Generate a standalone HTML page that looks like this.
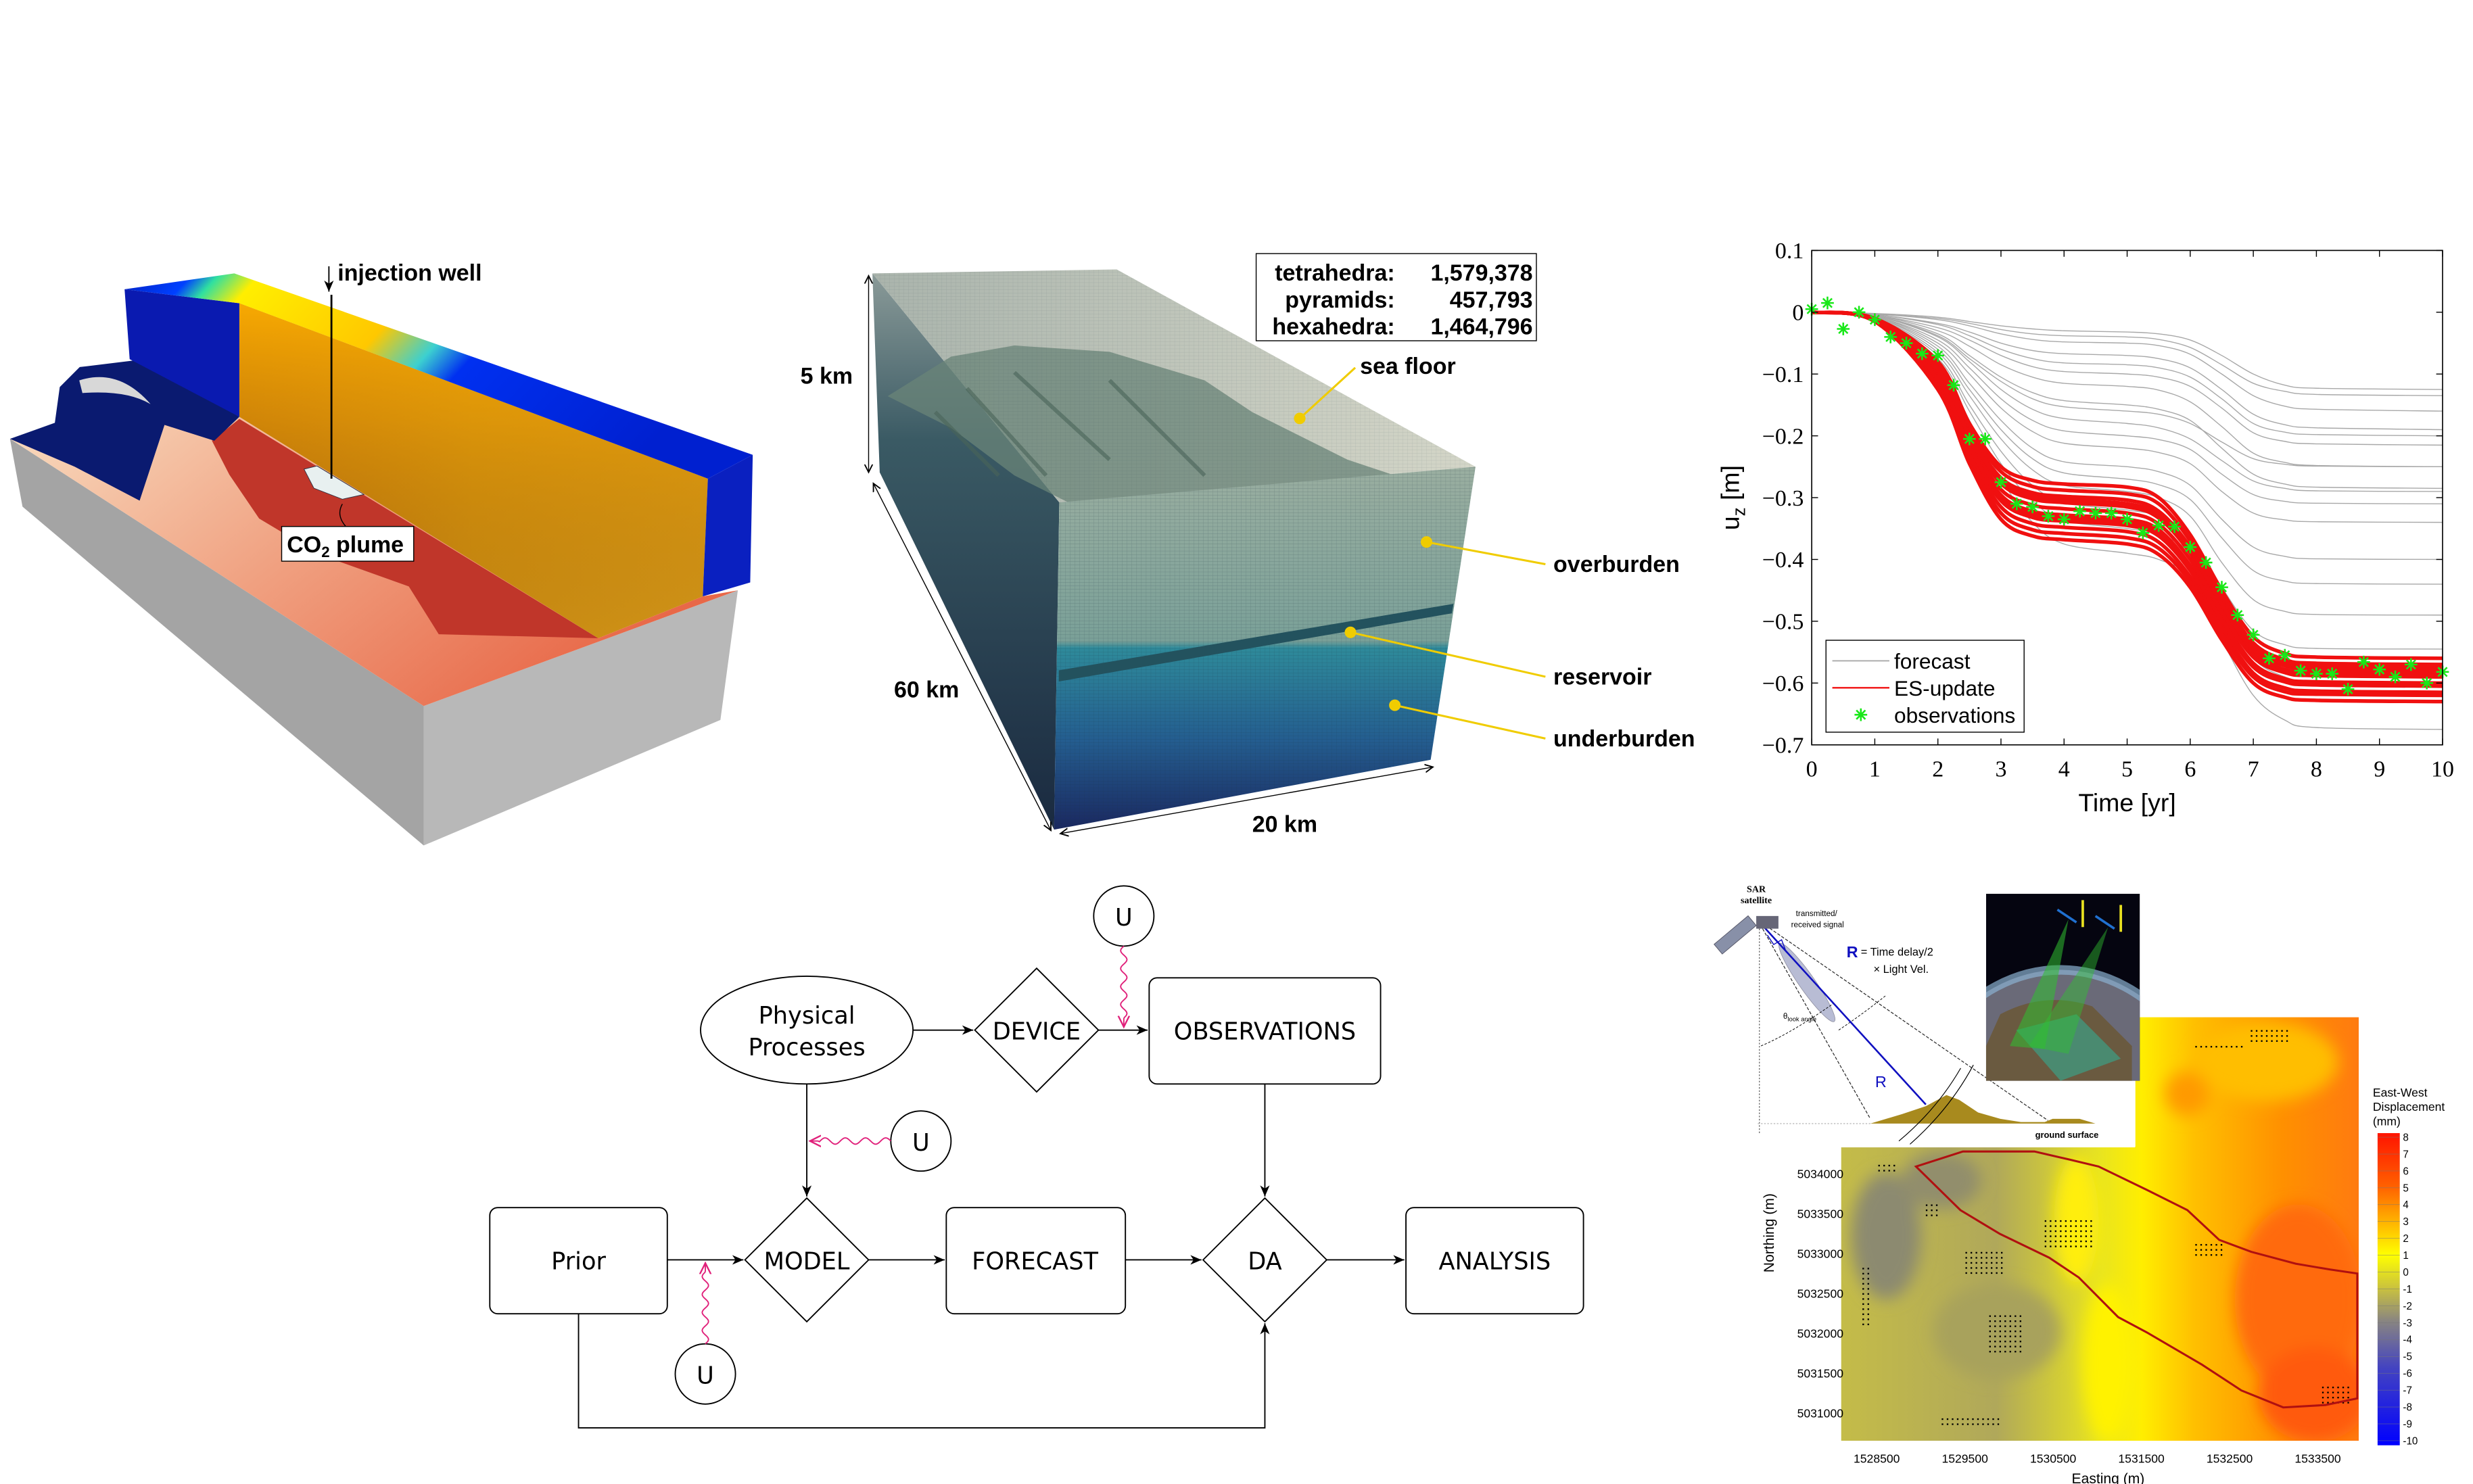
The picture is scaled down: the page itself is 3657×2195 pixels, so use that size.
<!DOCTYPE html>
<html><head><meta charset="utf-8"><style>
html,body{margin:0;padding:0;background:#fff;}
svg{display:block;}
</style></head><body>
<svg id="fig" xmlns="http://www.w3.org/2000/svg" width="3657" height="2195" viewBox="0 0 1560.2 936.4">
<defs>
 <linearGradient id="gWall" x1="0" y1="0" x2="1" y2="0">
  <stop offset="0" stop-color="#b06a10"/><stop offset="0.5" stop-color="#c88a12"/><stop offset="1" stop-color="#d09418"/>
 </linearGradient>
 <linearGradient id="gWallV" x1="0" y1="0" x2="0" y2="1">
  <stop offset="0" stop-color="#ffb000" stop-opacity="0.9"/><stop offset="0.35" stop-color="#f0a000" stop-opacity="0.5"/><stop offset="1" stop-color="#a06000" stop-opacity="0"/>
 </linearGradient>
 <linearGradient id="gTop" x1="0" y1="0" x2="1" y2="0.3">
  <stop offset="0" stop-color="#0020c0"/><stop offset="0.1" stop-color="#0040ff"/><stop offset="0.14" stop-color="#30e0a0"/><stop offset="0.2" stop-color="#ffee00"/><stop offset="0.45" stop-color="#ffc800"/><stop offset="0.55" stop-color="#3cd0d0"/><stop offset="0.62" stop-color="#0030f0"/><stop offset="1" stop-color="#0020d0"/>
 </linearGradient>
 <linearGradient id="gFloor" x1="0" y1="0" x2="1" y2="0.5">
  <stop offset="0" stop-color="#f8dcc0"/><stop offset="0.5" stop-color="#f0a080"/><stop offset="1" stop-color="#e86848"/>
 </linearGradient>
 <linearGradient id="gFront" x1="0" y1="0" x2="0" y2="1">
  <stop offset="0" stop-color="#9aaea0"/><stop offset="0.48" stop-color="#7aa098"/><stop offset="0.5" stop-color="#2e8a9a"/><stop offset="0.75" stop-color="#245e90"/><stop offset="1" stop-color="#1a2860"/>
 </linearGradient>
 <linearGradient id="gLeft" x1="0" y1="0" x2="0" y2="1">
  <stop offset="0" stop-color="#8a9a98"/><stop offset="0.3" stop-color="#3a5a64"/><stop offset="1" stop-color="#1a2a40"/>
 </linearGradient>
 <linearGradient id="gTopMesh" x1="0" y1="0" x2="1" y2="0">
  <stop offset="0" stop-color="#aab4ac"/><stop offset="1" stop-color="#d4d6c8"/>
 </linearGradient>
 <pattern id="mesh" width="3" height="2.2" patternUnits="userSpaceOnUse">
  <path d="M0 0H3M0 0V2.2" stroke="#1a3040" stroke-width="0.25" stroke-opacity="0.35" fill="none"/>
 </pattern>
 <linearGradient id="gMap" x1="0" y1="0" x2="1" y2="0">
  <stop offset="0" stop-color="#c4bc48"/><stop offset="0.3" stop-color="#b0a85a"/><stop offset="0.5" stop-color="#e8e420"/><stop offset="0.58" stop-color="#ffee00"/><stop offset="0.68" stop-color="#ffc000"/><stop offset="0.85" stop-color="#ff9000"/><stop offset="1" stop-color="#ff7a10"/>
 </linearGradient>
 <linearGradient id="gCbar" x1="0" y1="0" x2="0" y2="1">
  <stop offset="0" stop-color="#ff1400"/><stop offset="0.17" stop-color="#ff6000"/><stop offset="0.28" stop-color="#ffb000"/><stop offset="0.39" stop-color="#ffff00"/><stop offset="0.5" stop-color="#c8c040"/><stop offset="0.6" stop-color="#8a8680"/><stop offset="0.75" stop-color="#4444c0"/><stop offset="1" stop-color="#0000ff"/>
 </linearGradient>
 <filter id="blur4"><feGaussianBlur stdDeviation="5"/></filter>
 <clipPath id="mapClip"><path d="M1161.6 723.6H1347.2V641.9H1488.1V909.1H1161.6Z"/></clipPath>
 <clipPath id="photoClip"><rect x="1253" y="564" width="97" height="118"/></clipPath>
 <clipPath id="plotClip"><rect x="1143" y="158" width="398" height="312"/></clipPath>
 <marker id="arr" markerWidth="8" markerHeight="8" refX="7" refY="4" orient="auto" markerUnits="userSpaceOnUse"><path d="M0 1L7 4L0 7L2 4Z" fill="#000"/></marker>
 <marker id="arrM" markerWidth="8" markerHeight="8" refX="7" refY="4" orient="auto" markerUnits="userSpaceOnUse"><path d="M0 0.5L7 4L0 7.5" fill="none" stroke="#e0207a" stroke-width="1"/></marker>
 <marker id="arr2" markerWidth="6" markerHeight="6" refX="5" refY="3" orient="auto-start-reverse" markerUnits="userSpaceOnUse"><path d="M0 0.5L5 3L0 5.5" fill="none" stroke="#000" stroke-width="0.8"/></marker>
</defs>

<!-- ============ Panel 1: CO2 storage model ============ -->
<g>
 <polygon points="6.3,276.9 267.3,445.5 267.3,533.5 14.2,319.7" fill="#a4a4a4"/>
 <polygon points="267.3,445.5 465.5,372.5 454.5,454.3 267.3,533.5" fill="#b8b8b8"/>
 <polygon points="6.3,276.9 151,263 377.4,402.7 443.4,376.3 465.5,372.5 267.3,445.5" fill="url(#gFloor)"/>
 <polygon points="133.7,278.1 151,264.3 377.4,402.7 276.8,400.2 257.9,370 201.3,349.8 163.5,327.2 144.7,299.5" fill="#c0362a"/>
 <polygon points="6.3,276.9 34.6,266.8 37.7,244.2 50.3,231.6 91.2,226.6 151,263 135.2,278.1 103.8,268.1 88.1,315.9 47.2,294.5" fill="#0a1a70"/>
 <path d="M50 240 Q75 232 95 255 Q80 246 52 248Z" fill="#d8d8d8"/>
 <polygon points="151,191.3 446.6,302 443.4,376.3 377.4,402.7 151,263" fill="url(#gWall)"/>
 <polygon points="151,191.3 446.6,302 443.4,376.3 377.4,402.7 151,263" fill="url(#gWallV)"/>
 <polygon points="78.6,182.5 151,191.3 151,263 81.8,226.6" fill="#0a1ab0"/>
 <polygon points="446.6,302 474.9,287 473.3,367.5 443.4,376.3" fill="#0a20c0"/>
 <polygon points="78.6,182.5 147.8,172.5 474.9,287 446.6,302 151,191.3" fill="url(#gTop)"/>
 <polygon points="191.8,296 200,294 229.6,312 216,315 198,308" fill="#e8f0f0" stroke="#334" stroke-width="0.4"/>
 <line x1="209.1" y1="186" x2="209.1" y2="302" stroke="#000" stroke-width="1.2"/>
 <line x1="207.5" y1="168" x2="207.5" y2="184" stroke="#000" stroke-width="0.8" marker-end="url(#arr)"/>
 <text x="213" y="177" font-family="Liberation Sans, sans-serif" font-weight="bold" font-size="14.5">injection well</text>
 <path d="M218 332 Q212 325 216 318" fill="none" stroke="#000" stroke-width="0.6"/>
 <rect x="177.7" y="332.2" width="83.3" height="21.9" fill="#fff" stroke="#000" stroke-width="0.6"/>
 <text x="181" y="348.5" font-family="Liberation Sans, sans-serif" font-weight="bold" font-size="14.5">CO<tspan font-size="9.5" dy="3">2</tspan><tspan dy="-3"> plume</tspan></text>
</g>

<!-- ============ Panel 2: mesh block ============ -->
<g>
 <polygon points="550.4,172.5 668.3,317 665,523.5 555,298" fill="url(#gLeft)"/>
 <polygon points="550.4,172.5 704.5,170 930.9,294.5 668.3,317" fill="url(#gTopMesh)"/>
 <path d="M560 250 L600 225 L640 218 L700 222 L760 240 L790 260 L850 290 L880 300 L800 330 L700 330 L640 300 L600 270Z" fill="#6a8478" opacity="0.75"/>
 <path d="M610 245 L660 300 M640 235 L700 290 M700 240 L760 300 M590 260 L630 300" stroke="#4a6458" stroke-width="2.5" fill="none" opacity="0.6"/>
 <polygon points="668.3,317 930.9,294.5 902.6,479.4 665,523.5" fill="url(#gFront)"/>
 <polygon points="668.3,317 930.9,294.5 902.6,479.4 665,523.5" fill="url(#mesh)"/>
 <polygon points="550.4,172.5 704.5,170 930.9,294.5 668.3,317" fill="url(#mesh)" opacity="0.5"/>
 <polygon points="668,423 917,381 916,387 668,430" fill="#23525e"/>
 <line x1="548" y1="174" x2="548" y2="298" stroke="#000" stroke-width="0.6" marker-start="url(#arr2)" marker-end="url(#arr2)"/>
 <line x1="551" y1="305" x2="663" y2="524" stroke="#000" stroke-width="0.6" marker-start="url(#arr2)" marker-end="url(#arr2)"/>
 <line x1="669" y1="526" x2="904" y2="484" stroke="#000" stroke-width="0.6" marker-start="url(#arr2)" marker-end="url(#arr2)"/>
 <g font-family="Liberation Sans, sans-serif" font-weight="bold" font-size="14.5" fill="#000">
  <text x="505" y="242">5 km</text>
  <text x="564" y="440">60 km</text>
  <text x="790" y="525">20 km</text>
  <text x="858" y="236">sea floor</text>
  <text x="980" y="361">overburden</text>
  <text x="980" y="432">reservoir</text>
  <text x="980" y="471">underburden</text>
 </g>
 <g stroke="#f0cc00" stroke-width="1.3" fill="#f0cc00">
  <line x1="820" y1="264" x2="855" y2="232"/><circle cx="820" cy="264" r="3"/>
  <line x1="900" y1="342" x2="975" y2="356"/><circle cx="900" cy="342" r="3"/>
  <line x1="852" y1="399" x2="975" y2="427"/><circle cx="852" cy="399" r="3"/>
  <line x1="880" y1="445" x2="975" y2="466"/><circle cx="880" cy="445" r="3"/>
 </g>
 <rect x="792.5" y="160" width="176.8" height="55" fill="#fff" stroke="#000" stroke-width="0.6"/>
 <g font-family="Liberation Sans, sans-serif" font-weight="bold" font-size="14.5">
  <text x="880" y="177" text-anchor="end">tetrahedra:</text><text x="967" y="177" text-anchor="end">1,579,378</text>
  <text x="880" y="194" text-anchor="end">pyramids:</text><text x="967" y="194" text-anchor="end">457,793</text>
  <text x="880" y="211" text-anchor="end">hexahedra:</text><text x="967" y="211" text-anchor="end">1,464,796</text>
 </g>
</g>

<!-- ============ Panel 3: chart ============ -->
<g id="chart"></g>

<!-- ============ Panel 4: flowchart ============ -->
<g font-family="DejaVu Sans, sans-serif" font-size="15" fill="none" stroke="#000" stroke-width="0.8">
 <ellipse cx="509" cy="650" rx="67" ry="34" fill="#fff"/>
 <text x="509" y="646" text-anchor="middle" fill="#000" stroke="none" font-size="15">Physical</text>
 <text x="509" y="666" text-anchor="middle" fill="#000" stroke="none" font-size="15">Processes</text>
 <polygon points="654,611 693,650 654,689 615,650" fill="#fff"/>
 <text x="654" y="656" text-anchor="middle" fill="#000" stroke="none">DEVICE</text>
 <rect x="725" y="617" width="146" height="67" rx="5" fill="#fff"/>
 <text x="798" y="656" text-anchor="middle" fill="#000" stroke="none">OBSERVATIONS</text>
 <rect x="309" y="762" width="112" height="67" rx="5" fill="#fff"/>
 <text x="365" y="801" text-anchor="middle" fill="#000" stroke="none">Prior</text>
 <polygon points="509,756 548,795 509,834 470,795" fill="#fff"/>
 <text x="509" y="801" text-anchor="middle" fill="#000" stroke="none">MODEL</text>
 <rect x="597" y="762" width="113" height="67" rx="5" fill="#fff"/>
 <text x="653" y="801" text-anchor="middle" fill="#000" stroke="none">FORECAST</text>
 <polygon points="798,756 837,795 798,834 759,795" fill="#fff"/>
 <text x="798" y="801" text-anchor="middle" fill="#000" stroke="none">DA</text>
 <rect x="887" y="762" width="112" height="67" rx="5" fill="#fff"/>
 <text x="943" y="801" text-anchor="middle" fill="#000" stroke="none">ANALYSIS</text>
 <ellipse cx="709" cy="578" rx="19" ry="19" fill="#fff"/>
 <text x="709" y="584" text-anchor="middle" fill="#000" stroke="none">U</text>
 <ellipse cx="581" cy="720" rx="19" ry="19" fill="#fff"/>
 <text x="581" y="726" text-anchor="middle" fill="#000" stroke="none">U</text>
 <ellipse cx="445" cy="867" rx="19" ry="19" fill="#fff"/>
 <text x="445" y="873" text-anchor="middle" fill="#000" stroke="none">U</text>
 <line x1="576" y1="650" x2="614" y2="650" marker-end="url(#arr)"/>
 <line x1="693" y1="650" x2="724" y2="650" marker-end="url(#arr)"/>
 <line x1="509" y1="684" x2="509" y2="755" marker-end="url(#arr)"/>
 <line x1="798" y1="684" x2="798" y2="755" marker-end="url(#arr)"/>
 <line x1="421" y1="795" x2="469" y2="795" marker-end="url(#arr)"/>
 <line x1="548" y1="795" x2="596" y2="795" marker-end="url(#arr)"/>
 <line x1="710" y1="795" x2="758" y2="795" marker-end="url(#arr)"/>
 <line x1="837" y1="795" x2="886" y2="795" marker-end="url(#arr)"/>
 <polyline points="365,829 365,901 798,901 798,835" marker-end="url(#arr)"/>
 <path id="wav1" stroke="#e0207a" marker-end="url(#arrM)"/>
 <path id="wav2" stroke="#e0207a" marker-end="url(#arrM)"/>
 <path id="wav3" stroke="#e0207a" marker-end="url(#arrM)"/>
</g>

<!-- ============ Panel 5: InSAR ============ -->
<g>
 <g clip-path="url(#mapClip)">
  <rect x="1161" y="641" width="328" height="269" fill="url(#gMap)"/>
  <g filter="url(#blur4)">
   <ellipse cx="1190" cy="780" rx="22" ry="40" fill="#8c8a70"/>
   <ellipse cx="1260" cy="840" rx="40" ry="30" fill="#a8a25c"/>
   <ellipse cx="1225" cy="745" rx="25" ry="18" fill="#928e6c"/>
   <ellipse cx="1310" cy="770" rx="14" ry="40" fill="#ffee10"/>
   <ellipse cx="1330" cy="860" rx="16" ry="50" fill="#fff200"/>
   <ellipse cx="1450" cy="820" rx="40" ry="60" fill="#ff6a10"/>
   <ellipse cx="1460" cy="880" rx="35" ry="30" fill="#ff5a10"/>
   <ellipse cx="1380" cy="690" rx="14" ry="14" fill="#ff9a00"/>
   <ellipse cx="1430" cy="670" rx="45" ry="25" fill="#ffbe00"/>
  </g>
  <g id="mapDots" fill="#000"></g>
 </g>
 <path d="M1208.8 736.1 L1238.4 726.6 L1283.5 726.6 L1305.2 731.6 L1324 736.1 L1355 751.1 L1380 763.6 L1400.1 782.4 L1420.3 789.9 L1448.3 797.4 L1470.1 801.1 L1487.2 803.6 L1487.2 882.4 L1467 886.6 L1440.5 888.1 L1414.1 877.4 L1389.2 861.1 L1355 841.1 L1336.3 831.1 L1311.5 806.1 L1292.8 793.6 L1261.7 778.6 L1236.8 763.6 Z" fill="none" stroke="#b01010" stroke-width="1.3"/>
 <rect x="1500" y="715" width="14" height="197" fill="url(#gCbar)"/>
 <g id="cbarTicks" font-family="Liberation Sans, sans-serif" font-size="6.5" fill="#000"></g>
 <text font-family="Liberation Sans, sans-serif" font-size="7.5" x="1497" y="692">East-West</text>
 <text font-family="Liberation Sans, sans-serif" font-size="7.5" x="1497" y="701">Displacement</text>
 <text font-family="Liberation Sans, sans-serif" font-size="7.5" x="1497" y="710">(mm)</text>
 <g id="mapTicks" font-family="Liberation Sans, sans-serif" font-size="7.5" fill="#000"></g>
 <text font-family="Liberation Sans, sans-serif" font-size="9" x="1330" y="936" text-anchor="middle">Easting (m)</text>
 <text font-family="Liberation Sans, sans-serif" font-size="9" transform="translate(1119 778) rotate(-90)" text-anchor="middle">Northing (m)</text>
 <!-- SAR schematic -->
 <rect x="1075" y="548" width="272" height="176" fill="#fff"/>
 <g>
  <line x1="1110" y1="582" x2="1110" y2="716" stroke="#555" stroke-width="0.5" stroke-dasharray="1 1"/>
  <line x1="1109" y1="709" x2="1180" y2="709" stroke="#bbb" stroke-width="0.6" stroke-dasharray="1 1"/>
  <line x1="1112" y1="586" x2="1180" y2="706" stroke="#222" stroke-width="0.5" stroke-dasharray="2 1"/>
  <line x1="1114" y1="584" x2="1292" y2="707" stroke="#222" stroke-width="0.5" stroke-dasharray="2 1"/>
  <ellipse cx="1140" cy="620" rx="30" ry="5" transform="rotate(55 1140 620)" fill="#b8bcd4" stroke="#889" stroke-width="0.3"/>
  <polygon points="1180,709 1200,703 1215,698 1228,691 1236,694 1248,702 1262,706 1275,708 1290,708 1295,706 1312,706 1322,709" fill="#a88a1e"/>
  <path d="M1237 674 Q1222 700 1198 720 M1245 672 Q1230 700 1205 722" stroke="#000" stroke-width="0.5" fill="none"/>
  <path d="M1111 660 Q1130 652 1157 633 M1160 650 Q1175 640 1190 628" stroke="#000" stroke-width="0.4" fill="none" stroke-dasharray="1.5 1"/>
  <line x1="1112" y1="584" x2="1215" y2="697" stroke="#1010c0" stroke-width="1.1"/>
  <path d="M1115 590 l4 6 l5 -3 l3 8" stroke="#1010c0" stroke-width="0.6" fill="none"/>
  <g transform="rotate(-40 1097 588)"><rect x="1080" y="584" width="28" height="8" fill="#8890a8" stroke="#556" stroke-width="0.4"/></g>
  <rect x="1108" y="578" width="14" height="8" fill="#667" />
  <text font-family="Liberation Serif, serif" font-weight="bold" font-size="6" x="1108" y="563" text-anchor="middle">SAR</text>
  <text font-family="Liberation Serif, serif" font-weight="bold" font-size="6" x="1108" y="570" text-anchor="middle">satellite</text>
  <text font-family="Liberation Sans, sans-serif" font-size="5" x="1133" y="578">transmitted/</text>
  <text font-family="Liberation Sans, sans-serif" font-size="5" x="1130" y="585">received signal</text>
  <text font-family="Liberation Sans, sans-serif" font-size="10" x="1165" y="604" fill="#1010c0" font-weight="bold">R</text>
  <text font-family="Liberation Sans, sans-serif" font-size="7" x="1174" y="603">= Time delay/2</text>
  <text font-family="Liberation Sans, sans-serif" font-size="7" x="1182" y="614">× Light Vel.</text>
  <text font-family="Liberation Sans, sans-serif" font-size="10" x="1183" y="686" fill="#1010c0">R</text>
  <text font-family="Liberation Sans, sans-serif" font-size="5" x="1125" y="643">θ<tspan font-size="4" dy="1.5">look angle</tspan></text>
  <text font-family="Liberation Sans, sans-serif" font-size="5.5" font-weight="bold" x="1284" y="718">ground surface</text>
 </g>
 <g clip-path="url(#photoClip)">
  <rect x="1253" y="564" width="97" height="118" fill="#050510"/>
  <ellipse cx="1300" cy="760" rx="110" ry="148" fill="#6a6a78"/>
  <ellipse cx="1300" cy="760" rx="110" ry="148" fill="none" stroke="#8ab0d0" stroke-width="6" opacity="0.7"/>
  <path d="M1262 640 Q1290 625 1320 635 L1345 660 L1345 682 L1253 682 L1253 660Z" fill="#6a5a40"/>
  <path d="M1272 650 L1310 640 L1338 668 L1300 682Z" fill="#4a8a70"/>
  <polygon points="1305,580 1268,660 1290,662" fill="#30c030" opacity="0.55"/>
  <polygon points="1330,585 1280,660 1305,665" fill="#30c030" opacity="0.45"/>
  <line x1="1298" y1="574" x2="1310" y2="582" stroke="#2070d0" stroke-width="1.5"/>
  <line x1="1314" y1="568" x2="1314" y2="585" stroke="#e8e020" stroke-width="1.6"/>
  <line x1="1322" y1="578" x2="1334" y2="586" stroke="#2070d0" stroke-width="1.5"/>
  <line x1="1338" y1="571" x2="1338" y2="588" stroke="#e8e020" stroke-width="1.6"/>
 </g>
</g>
</svg>

<script>
// ---------------- chart data ----------------
const timeGrid = [0,1,2,2.5,3,3.5,4,5,5.5,6,6.5,7,7.5,8,10];
const forecastMembers = [
 [0,-0.002,-0.008,-0.015,-0.022,-0.027,-0.03,-0.032,-0.035,-0.045,-0.07,-0.1,-0.118,-0.123,-0.125],
 [0,-0.003,-0.01,-0.018,-0.028,-0.035,-0.038,-0.04,-0.044,-0.057,-0.085,-0.115,-0.128,-0.133,-0.135],
 [0,-0.003,-0.012,-0.022,-0.035,-0.044,-0.048,-0.05,-0.054,-0.068,-0.1,-0.135,-0.152,-0.157,-0.16],
 [0,-0.004,-0.018,-0.032,-0.05,-0.062,-0.067,-0.07,-0.075,-0.09,-0.125,-0.165,-0.182,-0.187,-0.19],
 [0,-0.004,-0.02,-0.038,-0.06,-0.075,-0.082,-0.085,-0.09,-0.105,-0.14,-0.18,-0.194,-0.198,-0.2],
 [0,-0.005,-0.025,-0.045,-0.07,-0.088,-0.096,-0.1,-0.105,-0.12,-0.155,-0.195,-0.209,-0.213,-0.215],
 [0,-0.005,-0.03,-0.055,-0.085,-0.105,-0.115,-0.12,-0.126,-0.145,-0.185,-0.228,-0.243,-0.248,-0.25],
 [0,-0.006,-0.035,-0.07,-0.105,-0.13,-0.143,-0.15,-0.157,-0.175,-0.22,-0.262,-0.278,-0.283,-0.285],
 [0,-0.006,-0.038,-0.075,-0.112,-0.14,-0.153,-0.16,-0.165,-0.18,-0.21,-0.237,-0.246,-0.249,-0.25],
 [0,-0.006,-0.04,-0.08,-0.125,-0.157,-0.172,-0.18,-0.187,-0.205,-0.24,-0.273,-0.285,-0.289,-0.29],
 [0,-0.007,-0.045,-0.09,-0.14,-0.175,-0.192,-0.2,-0.206,-0.222,-0.262,-0.295,-0.306,-0.309,-0.31],
 [0,-0.007,-0.05,-0.1,-0.155,-0.193,-0.212,-0.22,-0.227,-0.245,-0.29,-0.325,-0.336,-0.339,-0.34],
 [0,-0.008,-0.055,-0.115,-0.175,-0.22,-0.242,-0.25,-0.258,-0.28,-0.335,-0.38,-0.395,-0.399,-0.4],
 [0,-0.008,-0.06,-0.125,-0.19,-0.237,-0.26,-0.27,-0.279,-0.303,-0.365,-0.418,-0.435,-0.439,-0.44],
 [0,-0.009,-0.065,-0.135,-0.205,-0.255,-0.28,-0.29,-0.3,-0.33,-0.405,-0.465,-0.484,-0.489,-0.49],
 [0,-0.01,-0.07,-0.15,-0.225,-0.28,-0.308,-0.32,-0.33,-0.36,-0.445,-0.515,-0.538,-0.544,-0.545],
 [0,-0.01,-0.075,-0.16,-0.245,-0.305,-0.337,-0.35,-0.36,-0.39,-0.48,-0.56,-0.59,-0.598,-0.6],
 [0,-0.01,-0.08,-0.175,-0.27,-0.34,-0.375,-0.39,-0.4,-0.43,-0.53,-0.62,-0.66,-0.672,-0.675]
];
const updateMembers = [
 [0,-0.01,-0.08,-0.18,-0.25,-0.272,-0.278,-0.283,-0.3,-0.36,-0.45,-0.525,-0.552,-0.558,-0.56],
 [0,-0.011,-0.085,-0.188,-0.258,-0.282,-0.288,-0.294,-0.31,-0.37,-0.46,-0.535,-0.562,-0.568,-0.57],
 [0,-0.011,-0.09,-0.195,-0.268,-0.292,-0.298,-0.304,-0.322,-0.38,-0.468,-0.542,-0.567,-0.573,-0.575],
 [0,-0.012,-0.095,-0.2,-0.277,-0.302,-0.308,-0.315,-0.333,-0.39,-0.478,-0.552,-0.578,-0.583,-0.585],
 [0,-0.012,-0.1,-0.208,-0.287,-0.312,-0.318,-0.325,-0.343,-0.4,-0.485,-0.558,-0.583,-0.588,-0.59],
 [0,-0.013,-0.105,-0.215,-0.296,-0.322,-0.328,-0.335,-0.352,-0.41,-0.495,-0.568,-0.593,-0.598,-0.6],
 [0,-0.013,-0.11,-0.222,-0.305,-0.332,-0.338,-0.345,-0.362,-0.418,-0.502,-0.574,-0.598,-0.603,-0.605],
 [0,-0.014,-0.115,-0.23,-0.315,-0.342,-0.348,-0.355,-0.372,-0.428,-0.512,-0.584,-0.608,-0.613,-0.615],
 [0,-0.014,-0.12,-0.238,-0.325,-0.352,-0.358,-0.365,-0.382,-0.436,-0.52,-0.59,-0.614,-0.618,-0.62],
 [0,-0.015,-0.125,-0.245,-0.335,-0.362,-0.368,-0.375,-0.392,-0.445,-0.53,-0.6,-0.623,-0.628,-0.63],
 [0,-0.012,-0.092,-0.2,-0.272,-0.297,-0.303,-0.31,-0.327,-0.385,-0.472,-0.547,-0.572,-0.578,-0.58],
 [0,-0.013,-0.108,-0.218,-0.3,-0.327,-0.333,-0.34,-0.357,-0.414,-0.498,-0.571,-0.596,-0.6,-0.602]
];
const obsTime = [0,0.25,0.5,0.75,1,1.25,1.5,1.75,2,2.25,2.5,2.75,3,3.25,3.5,3.75,4,4.25,4.5,4.75,5,5.25,5.5,5.75,6,6.25,6.5,6.75,7,7.25,7.5,7.75,8,8.25,8.5,8.75,9,9.25,9.5,9.75,10];
const obsValue = [0.005,0.015,-0.027,0,-0.012,-0.04,-0.05,-0.067,-0.07,-0.118,-0.205,-0.205,-0.275,-0.31,-0.315,-0.33,-0.335,-0.322,-0.325,-0.325,-0.335,-0.357,-0.345,-0.347,-0.38,-0.405,-0.445,-0.49,-0.522,-0.56,-0.555,-0.58,-0.585,-0.585,-0.61,-0.566,-0.578,-0.59,-0.57,-0.6,-0.582];
const xTicks = [0,1,2,3,4,5,6,7,8,9,10];
const yTicks = [0.1,0,-0.1,-0.2,-0.3,-0.4,-0.5,-0.6,-0.7];
const yTickLabels = ["0.1","0","\u22120.1","\u22120.2","\u22120.3","\u22120.4","\u22120.5","\u22120.6","\u22120.7"];
const northTicks = [5034000,5033500,5033000,5032500,5032000,5031500,5031000];
const eastTicks = [1528500,1529500,1530500,1531500,1532500,1533500];
const cbarTicks = [8,7,6,5,4,3,2,1,0,-1,-2,-3,-4,-5,-6,-7,-8,-9,-10];

// ---------------- chart drawing ----------------
const NS = "http://www.w3.org/2000/svg";
const PL=1143, PR=1541, PT=158, PB=470, XMIN=0, XMAX=10, YMIN=-0.7, YMAX=0.1;
function xs(t){ return PL + (t-XMIN)/(XMAX-XMIN)*(PR-PL); }
function ys(v){ return PB - (v-YMIN)/(YMAX-YMIN)*(PB-PT); }
function mk(tag, attrs, parent){ const e=document.createElementNS(NS,tag); for(const k in attrs) e.setAttribute(k,attrs[k]); parent.appendChild(e); return e; }
function smoothPath(ts, vs){
  const p = ts.map((t,i)=>[xs(t), ys(vs[i])]);
  let d = "M"+p[0][0].toFixed(2)+" "+p[0][1].toFixed(2);
  for(let i=0;i<p.length-1;i++){
    const p0=p[Math.max(0,i-1)], p1=p[i], p2=p[i+1], p3=p[Math.min(p.length-1,i+2)];
    const c1=[p1[0]+(p2[0]-p0[0])/6, p1[1]+(p2[1]-p0[1])/6];
    const c2=[p2[0]-(p3[0]-p1[0])/6, p2[1]-(p3[1]-p1[1])/6];
    d += " C"+c1[0].toFixed(2)+" "+c1[1].toFixed(2)+" "+c2[0].toFixed(2)+" "+c2[1].toFixed(2)+" "+p2[0].toFixed(2)+" "+p2[1].toFixed(2);
  }
  return d;
}
function star(g, cx, cy, r){
  for(const a of [0,45,90,135]){
    const rad=a*Math.PI/180;
    const l = mk("line",{x1:cx-r*Math.cos(rad),y1:cy-r*Math.sin(rad),x2:cx+r*Math.cos(rad),y2:cy+r*Math.sin(rad),stroke:"#18e818","stroke-width":1.1},g);
    
    
  }
}
const chart = document.getElementById("chart");
const bg = mk("rect",{x:PL,y:PT,width:PR-PL,height:PB-PT,fill:"#fff"},chart);


const lines = mk("g",{"clip-path":"url(#plotClip)",fill:"none"},chart);


forecastMembers.forEach(function(vs){
  const pth = mk("path",{d:smoothPath(timeGrid,vs),stroke:"#a8a8a8","stroke-width":0.6},lines);
  
  
});
updateMembers.forEach(function(vs){
  const pth = mk("path",{d:smoothPath(timeGrid,vs),stroke:"#f01010","stroke-width":2.3},lines);
  
  
});
const obsG = mk("g",{},chart);


obsTime.forEach(function(t,i){ star(obsG, xs(t), ys(obsValue[i]), 4); });
const frame = mk("rect",{x:PL,y:PT,width:PR-PL,height:PB-PT,fill:"none",stroke:"#000","stroke-width":0.7},chart);


const axG = mk("g",{"font-family":"Liberation Serif, serif","font-size":14.5,fill:"#000"},chart);


xTicks.forEach(function(t){
  const x=xs(t);
  mk("line",{x1:x,y1:PB,x2:x,y2:PB-4,stroke:"#000","stroke-width":0.6},axG);
  mk("line",{x1:x,y1:PT,x2:x,y2:PT+4,stroke:"#000","stroke-width":0.6},axG);
  const tx = mk("text",{x:x,y:PB+20,"text-anchor":"middle"},axG);
  tx.textContent = String(t);
  
  
});
yTicks.forEach(function(v,i){
  const y=ys(v);
  mk("line",{x1:PL,y1:y,x2:PL+4,y2:y,stroke:"#000","stroke-width":0.6},axG);
  mk("line",{x1:PR,y1:y,x2:PR-4,y2:y,stroke:"#000","stroke-width":0.6},axG);
  const tx = mk("text",{x:PL-5,y:y+5,"text-anchor":"end"},axG);
  tx.textContent = yTickLabels[i];
  
  
});
const xt = mk("text",{x:(PL+PR)/2,y:512,"text-anchor":"middle","font-family":"Liberation Sans, sans-serif","font-size":16},chart);
xt.textContent="Time [yr]";


const yt = mk("text",{transform:"translate(1097 314) rotate(-90)","text-anchor":"middle","font-family":"Liberation Sans, sans-serif","font-size":16},chart);
yt.textContent = "u";
const ytz = mk("tspan",{"font-size":11,dy:4},yt); ytz.textContent="z";
const ytm = mk("tspan",{dy:-4},yt); ytm.textContent=" [m]";


// legend
const lg = mk("g",{"font-family":"Liberation Sans, sans-serif","font-size":13.5},chart);


mk("rect",{x:1152,y:404,width:125,height:58,fill:"#fff",stroke:"#000","stroke-width":0.6},lg);
const l1=mk("line",{x1:1156,y1:417,x2:1192,y2:417,stroke:"#a8a8a8","stroke-width":0.8},lg);
 
const t1=mk("text",{x:1195,y:422},lg); t1.textContent="forecast";
 
const l2=mk("line",{x1:1156,y1:434,x2:1192,y2:434,stroke:"#f01010","stroke-width":1},lg);
 
const t2=mk("text",{x:1195,y:439},lg); t2.textContent="ES-update";
 
star(lg,1174,451,4);
const t3=mk("text",{x:1195,y:456},lg); t3.textContent="observations";
 

// ---------------- flowchart wavy arrows ----------------
function wavy(x1,y1,x2,y2,amp,n){
  const dx=x2-x1, dy=y2-y1, L=Math.hypot(dx,dy), ux=dx/L, uy=dy/L, nx=-uy, ny=ux;
  let d="M"+x1+" "+y1; const steps=60;
  for(let i=1;i<=steps;i++){
    const s=i/steps, w=(i<steps-6)?Math.sin(s*n*2*Math.PI)*amp:0;
    d+=" L"+(x1+dx*s+nx*w).toFixed(2)+" "+(y1+dy*s+ny*w).toFixed(2);
  }
  return d;
}
document.getElementById("wav1").setAttribute("d", wavy(709,597,709,648,2,4.5));
document.getElementById("wav2").setAttribute("d", wavy(562,720,511,720,2,4));
document.getElementById("wav3").setAttribute("d", wavy(445,848,445,797,2,4.5));

// ---------------- map ticks / colorbar ----------------
const mt = document.getElementById("mapTicks");
function nY(v){ return 740.9 + (5034000-v)/3000*(891.9-740.9); }
function eX(v){ return 1184 + (v-1528500)/5000*(1462.3-1184); }
northTicks.forEach(function(v){
  const t=mk("text",{x:1163,y:nY(v)+2.5,"text-anchor":"end"},mt); t.textContent=String(v);
   
});
eastTicks.forEach(function(v){
  const t=mk("text",{x:eX(v),y:923,"text-anchor":"middle"},mt); t.textContent=String(v);
   
});
const ct = document.getElementById("cbarTicks");
cbarTicks.forEach(function(v){
  const y = 717.6 + (8-v)/18*(909.1-717.6);
  mk("line",{x1:1500,y1:y,x2:1514,y2:y,stroke:"#777","stroke-width":0.2},ct);
  const t=mk("text",{x:1516,y:y+2.3},ct); t.textContent=String(v);
   
});
const dotClusters = [[1185,735,4,2],[1215,760,3,3],[1240,790,8,5],[1255,830,7,8],[1290,770,10,6],[1175,800,2,12],[1385,785,6,3],[1465,875,6,4],[1420,650,8,3],[1385,660,10,1],[1225,895,12,2]];
const md = document.getElementById("mapDots");
dotClusters.forEach(function(c){
  for(let i=0;i<c[2];i++) for(let j=0;j<c[3];j++){
    mk("rect",{x:c[0]+i*3.2,y:c[1]+j*3.2,width:1,height:1},md);
  }
});
</script>
</body></html>
